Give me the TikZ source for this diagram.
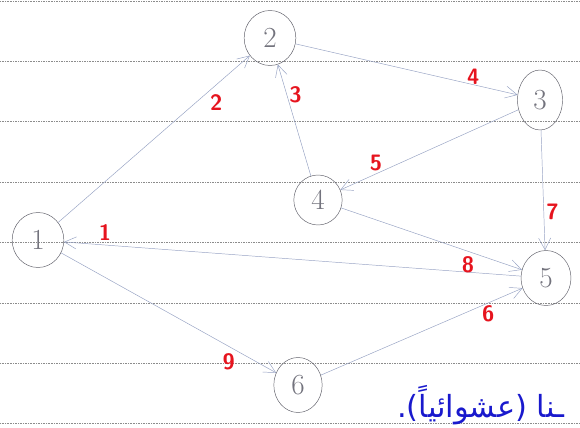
\documentclass[tikz,border=0pt]{standalone}
\usepackage{fontspec}
\newfontfamily\arabicfont[Script=Arabic]{DejaVu Sans}
\TeXXeTstate=1
\usetikzlibrary{arrows.meta, shapes.geometric}
\definecolor{pencil}{RGB}{150,162,195}
\definecolor{nodegray}{RGB}{95,95,105}
\definecolor{digitgray}{RGB}{115,115,125}
\definecolor{labelred}{RGB}{230,20,30}
\definecolor{inkblue}{RGB}{25,25,205}
\definecolor{rulegray}{RGB}{140,140,140}

\begin{document}
\begin{tikzpicture}[x=0.03cm, y=-0.03cm, >={Straight Barb[length=3.5mm, width=3.6mm]},
		vertex/.style={ellipse, draw=nodegray, thin, minimum width=1.55cm, minimum height=1.65cm, inner sep=0pt, text=digitgray, font=\Huge},
		line/.style={draw=pencil, ->, thin},
		lbl/.style={text=labelred, font=\sffamily\bfseries\fontsize{19}{21}\selectfont, inner sep=2pt}]
		
		\useasboundingbox (0,0) rectangle (580,428);
		
		% Feuille lignée
		\foreach \y in {1,61,121,182,242,303,363,423}
			\draw [rulegray, densely dotted, thin] (0,\y) -- (580,\y);
		
		\node [vertex] (n1) at (38,240) {1};
		\node [vertex] (n2) at (270,38) {2};
		\node [vertex, minimum width=1.35cm, minimum height=1.8cm] (n3) at (540,100) {3};
		\node [vertex, minimum width=1.45cm, minimum height=1.5cm] (n4) at (318,200) {4};
		\node [vertex, minimum width=1.5cm] (n5) at (546,278) {5};
		\node [vertex, minimum width=1.45cm] (n6) at (298,385) {6};
		
		\node [font=\arabicfont\fontsize{26}{28}\selectfont, text=inkblue, anchor=base west, inner sep=0pt] (note) at (397,417) {\beginR ـنا (عشوائياً).\endR};
		
		% Arcs
		\path [line] (n5) -- node [lbl, pos=0.91, above=2pt] {1} (n1);
		\path [line] (n1) -- node [lbl, pos=0.78, below right] {2} (n2);
		\path [line] (n4) -- node [lbl, pos=0.73, right] {3} (n2);
		\path [line] (n2) -- node [lbl, pos=0.84, above left] {4} (n3);
		\path [line] (n3) -- node [lbl, pos=0.8, above] {5} (n4);
		\path [line] (n6) -- node [lbl, pos=0.83, below] {6} (n5);
		\path [line] (n3) -- node [lbl, pos=0.68, right] {7} (n5);
		\path [line] (n4) -- node [lbl, pos=0.75, below left] {8} (n5);
		\path [line] (n1) -- node [lbl, pos=0.82, below left] {9} (n6);
		
	\end{tikzpicture}
\end{document}
